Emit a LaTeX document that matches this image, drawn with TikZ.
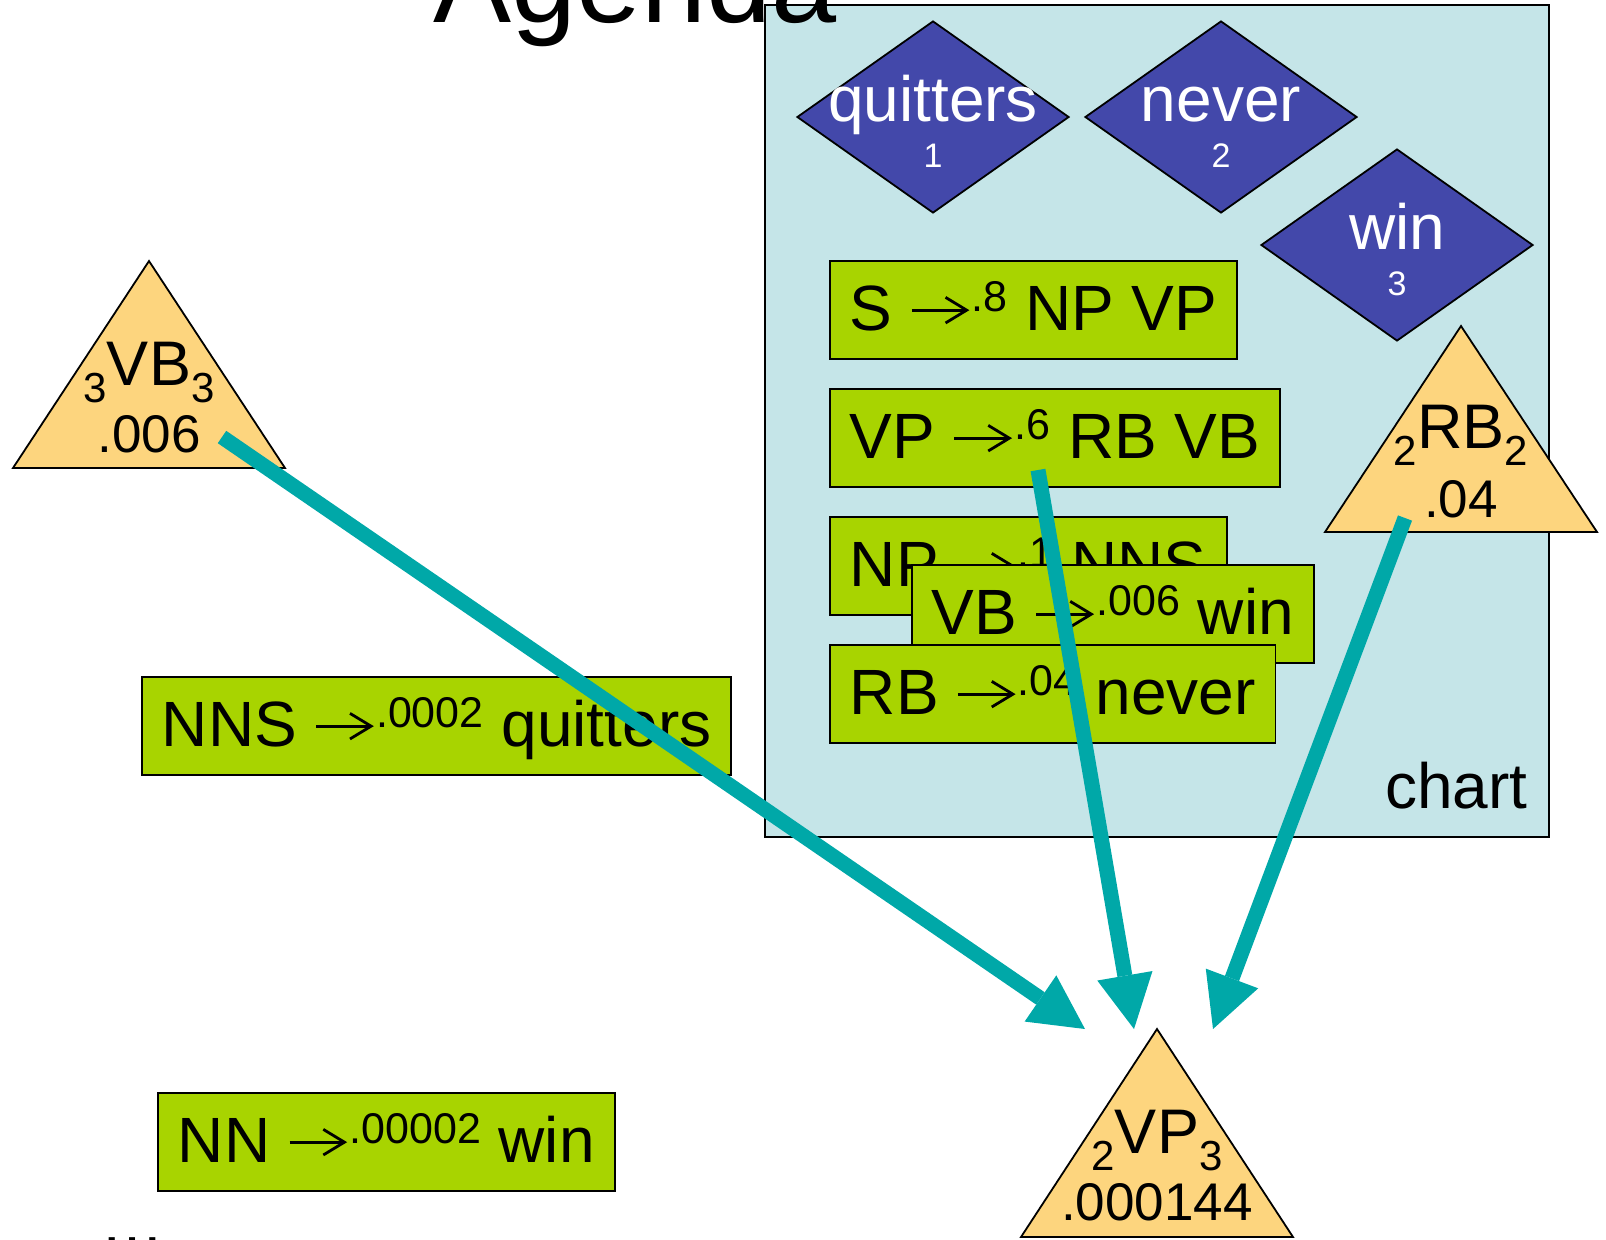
\documentclass[tikz,border=0pt]{standalone}
\usepackage{fontspec}
\setmainfont{Liberation Sans}
\usetikzlibrary{arrows.meta,shapes.geometric}

\definecolor{chartbg}{RGB}{197,229,232}
\definecolor{wordblue}{RGB}{67,72,170}
\definecolor{rulegreen}{RGB}{168,212,0}
\definecolor{edgeorange}{RGB}{253,213,126}
\definecolor{flowteal}{RGB}{0,168,168}

% font size helper
\newcommand\fs[1]{\fontsize{#1}{#1}\selectfont}
% rule probability written above the arrow
\newcommand\prob[1]{\raisebox{9.5pt}{\fs{21.5}#1}}
% small subscripts on the constituent labels
\newcommand\spanidx[1]{\raisebox{-8.5pt}{\fs{21}#1}}
% thin rewrite arrow inside the rules
\newcommand\rarr{\tikz[baseline={(0pt,-0.31em)}]\draw[black,line width=1.4pt,-{Straight Barb[length=0.33em,width=0.4em]}] (0pt,0pt)--(0.9em,0pt);}

\tikzset{
  rulebox/.style={draw=black, line width=0.9pt, fill=rulegreen, anchor=west,
    minimum height=49pt, inner xsep=10pt, inner ysep=0pt,
    text height=25pt, text depth=5pt, font=\fs{32}},
  wordtok/.style={diamond, draw=black, line width=0.9pt, fill=wordblue,
    minimum width=136pt, minimum height=96pt, inner sep=0pt},
  wordtxt/.style={anchor=base, text=white, inner sep=0pt, font=\fs{32}},
  posntxt/.style={anchor=base, text=white, inner sep=0pt, font=\fs{17}},
  tri/.style={draw=black, line width=0.9pt, fill=edgeorange},
  conlbl/.style={anchor=base, inner sep=0pt, font=\fs{31.5}},
  conprob/.style={anchor=base, inner sep=0pt, font=\fs{26.5}},
  flow/.style={draw=flowteal, line width=7.5pt,
    -{Triangle[length=27pt,width=28pt,line width=0pt]}}
}

\begin{document}
\begin{tikzpicture}[x=0.5pt,y=-0.5pt]
\useasboundingbox (0,0) rectangle (1606,1239);

% the chart area
\path[draw=black, line width=0.9pt, fill=chartbg] (765,5) rectangle (1549,837);
\node[anchor=base west, inner sep=0pt, font=\fs{58.5}] (agenda) at (433,22) {Agenda};

% input words
\node[wordtok] (d1) at (933,117) {};
\node[wordtok] (d2) at (1221,117) {};
\node[wordtok] (d3) at (1397,245) {};
\node[wordtxt] (w1) at (933,121) {quitters};
\node[posntxt] (n1) at (933,167) {1};
\node[wordtxt] (w2) at (1221,121) {never};
\node[posntxt] (n2) at (1221,167) {2};
\node[wordtxt] (w3) at (1397,249) {win};
\node[posntxt] (n3) at (1397,295) {3};

% grammar rules in the chart
\node[rulebox] (rS)  at (829,310) {S \rarr\prob{.8} NP VP};
\node[rulebox] (rVP) at (829,438) {VP \rarr\prob{.6} RB VB};
\node[rulebox] (rNP) at (829,566) {NP \rarr\prob{.1} NNS};
\node[rulebox] (rVB) at (911,614) {VB \rarr\prob{.006} win};
\node[rulebox] (rRB) at (829,694) {RB \rarr\prob{.04} never};
\node[anchor=base east, inner sep=0pt, font=\fs{32}] (chartlbl) at (1528,808) {chart};

% rules still on the agenda
\node[rulebox] (rNNS) at (141,726) {NNS \rarr\prob{.0002} quitters};
\node[rulebox] (rNN)  at (157,1142) {NN \rarr\prob{.00002} win};
\node[anchor=base west, inner sep=0pt, font=\fs{32}] (more) at (100,1244) {…};

% constituents
\path[tri] (149,261) -- (285,468) -- (13,468) -- cycle;
\node[conlbl] (lVB) at (149,385) {\spanidx{3}VB\spanidx{3}};
\node[conprob] (pVB) at (149,452) {.006};

\path[tri] (1461,326) -- (1597,532) -- (1325,532) -- cycle;
\node[conlbl] (lRB) at (1461,448) {\spanidx{2}RB\spanidx{2}};
\node[conprob] (pRB) at (1461,517) {.04};

\path[tri] (1157,1029) -- (1293,1237) -- (1021,1237) -- cycle;
\node[conlbl] (lVP) at (1157,1153) {\spanidx{2}VP\spanidx{3}};
\node[conprob] (pVP) at (1157,1220) {.000144};

% combining into the new constituent
\coordinate (vbout) at (222,437);
\coordinate (ruleout) at (1038,470);
\coordinate (rbout) at (1405,518);
\coordinate (vpinA) at (1085,1029);
\coordinate (vpinB) at (1134,1029);
\coordinate (vpinC) at (1213,1029);
\draw[flow] (vbout) -- (vpinA);
\draw[flow] (ruleout) -- (vpinB);
\draw[flow] (rbout) -- (vpinC);
\end{tikzpicture}
\end{document}
